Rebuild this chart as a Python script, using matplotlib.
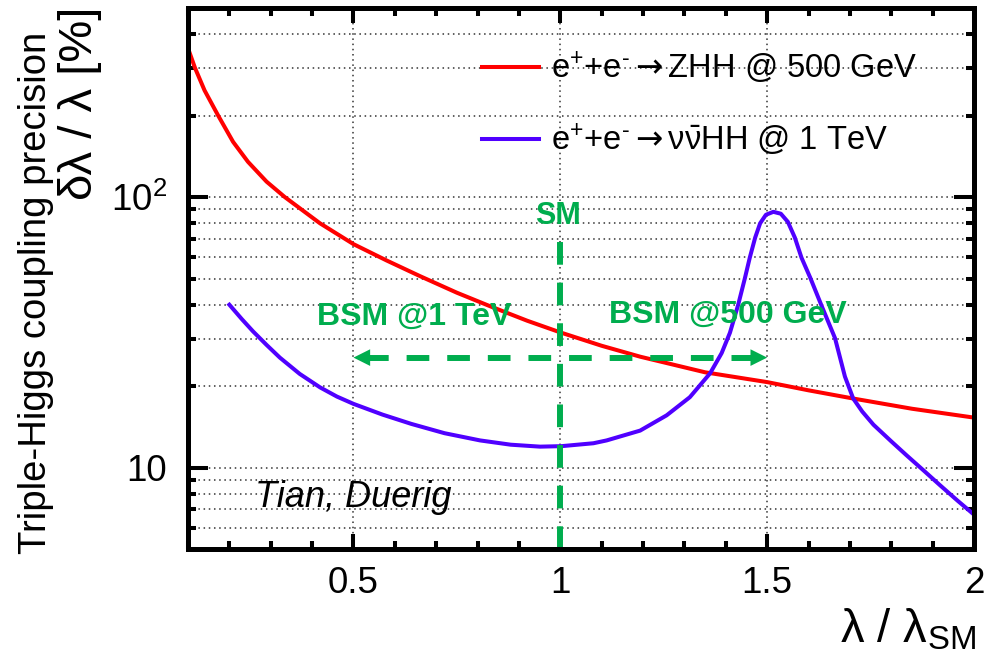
import numpy as np
import matplotlib
matplotlib.use("Agg")
import matplotlib.pyplot as plt
from matplotlib.ticker import FixedLocator, FixedFormatter, NullFormatter

plt.rcParams["font.family"] = ["Liberation Sans", "DejaVu Sans"]
plt.rcParams["mathtext.fontset"] = "custom"
plt.rcParams["mathtext.rm"] = "Liberation Sans"
plt.rcParams["mathtext.it"] = "Liberation Sans:italic"
plt.rcParams["mathtext.bf"] = "Liberation Sans:bold"
plt.rcParams["mathtext.sf"] = "DejaVu Sans"   # only used for the long arrow

# ============================================================================
# data
# ============================================================================
zhh_x = [0.100, 0.117, 0.14, 0.173, 0.209, 0.245, 0.29, 0.334, 0.419, 0.50,
         0.58, 0.661, 0.75, 0.83, 0.92, 1.00, 1.10, 1.193, 1.35, 1.50,
         1.60, 1.708, 1.85, 2.00]
zhh_y = [355, 300, 248, 200, 160, 135, 114, 100, 80, 67,
         58.3, 51, 44.3, 39.5, 34.9, 31.6, 28.2, 25.7, 22.5, 20.7,
         19.3, 18.0, 16.5, 15.3]

vvhh_x = [0.20, 0.23, 0.257, 0.29, 0.322, 0.37, 0.419, 0.46, 0.50, 0.57,
          0.64, 0.72, 0.806, 0.88, 0.951, 1.003, 1.08, 1.112, 1.193, 1.257,
          1.313, 1.362, 1.39, 1.41, 1.43, 1.446, 1.458, 1.471, 1.483, 1.497,
          1.515, 1.533, 1.55, 1.567, 1.583, 1.604, 1.632, 1.664, 1.688, 1.708,
          1.73, 1.757, 1.80, 1.837, 1.88, 1.918, 1.96, 2.00]
vvhh_y = [40, 35.4, 31.9, 28.4, 25.5, 22.2, 19.8, 18.3, 17.2, 15.7,
          14.5, 13.4, 12.6, 12.15, 11.95, 12.0, 12.3, 12.6, 13.7, 15.6,
          18.2, 22.3, 26.5, 31.5, 40, 50, 59.7, 70.8, 80, 86,
          88.2, 86.8, 81, 70.8, 59.7, 50.4, 39.5, 30.1, 21.7, 18.0,
          16.1, 14.4, 12.5, 11.1, 9.7, 8.6, 7.55, 6.7]

arrow = r"$\mathsf{\rightarrow}$"
labels = [r"e$\mathregular{^{+}}$+e$\mathregular{^{\text{-}}}$" + arrow + "ZHH @ 500 GeV",
          r"e$\mathregular{^{+}}$+e$\mathregular{^{\text{-}}}$" + arrow
          + r"$\mathregular{\nu\bar{\nu}}$HH @ 1 TeV"]

x_major = [0.5, 1.0, 1.5, 2.0]
x_major_labels = ["0.5", "1", "1.5", "2"]
x_minor = [0.1, 0.2, 0.3, 0.4, 0.6, 0.7, 0.8, 0.9, 1.1, 1.2, 1.3, 1.4,
           1.6, 1.7, 1.8, 1.9]
y_major = [10, 100]
y_major_labels = ["10", r"$\mathregular{10^{2}}$"]
y_minor = [5, 6, 7, 8, 9, 20, 30, 40, 50, 60, 70, 80, 90, 200, 300, 400]

sm_value = 1.0
bsm_1tev_edge = 0.5
bsm_500_edge = 1.5
arrow_level = 25.5
sm_line_top = 69

GREEN = "#00ad4e"
RED = "#ff0000"
BLUE = "#5000ff"

# ============================================================================
# figure
# ============================================================================
W, H = 986, 658
fig = plt.figure(figsize=(W / 100, H / 100), dpi=100)
L, R, T, B = 188, 974, 8, 549
ax = fig.add_axes([L / W, 1 - B / H, (R - L) / W, (B - T) / H])

ax.set_yscale("log")
ax.set_xlim(0.1, 2.0)
ax.set_ylim(5, 500)

ax.xaxis.set_major_locator(FixedLocator(x_major))
ax.xaxis.set_major_formatter(FixedFormatter(x_major_labels))
ax.xaxis.set_minor_locator(FixedLocator(x_minor))
ax.yaxis.set_major_locator(FixedLocator(y_major))
ax.yaxis.set_major_formatter(FixedFormatter(y_major_labels))
ax.yaxis.set_minor_locator(FixedLocator(y_minor))
ax.yaxis.set_minor_formatter(NullFormatter())

# ROOT-style dotted grid
dot = (0, (1.0, 2.4))
ax.grid(True, which="major", axis="x", color="0.2", lw=1.1, ls=dot)
ax.grid(True, which="both", axis="y", color="0.2", lw=1.1, ls=dot)
ax.set_axisbelow(True)

for s in ax.spines.values():
    s.set_linewidth(3.6)

ax.tick_params(which="both", direction="in", top=True, right=True, width=2.9,
               labelsize=26.5)
ax.tick_params(axis="x", which="major", length=11, pad=12)
ax.tick_params(axis="x", which="minor", length=6)
ax.tick_params(axis="y", which="major", length=14.5, pad=15)
ax.tick_params(axis="y", which="minor", length=6)

# curves
ax.plot(zhh_x, zhh_y, color=RED, lw=2.9, label=labels[0])
ax.plot(vvhh_x, vvhh_y, color=BLUE, lw=2.9, label=labels[1])

# SM line and BSM arrows
dash = dict(color=GREEN, lw=4.3, dashes=(3.8, 3.0), solid_capstyle="butt",
            dash_capstyle="butt")
ax.plot([sm_value, sm_value], [5, sm_line_top], **dash)
ax.plot([bsm_1tev_edge + 0.03, bsm_500_edge - 0.03], [arrow_level, arrow_level], **dash)
for tip, tail in [(bsm_1tev_edge, bsm_1tev_edge + 0.06), (bsm_500_edge, bsm_500_edge - 0.06)]:
    ax.annotate("", xy=(tip, arrow_level), xytext=(tail, arrow_level),
                arrowprops=dict(arrowstyle="-|>", mutation_scale=30, color=GREEN,
                                lw=0, shrinkA=0, shrinkB=0))

ax.text(sm_value - 0.005, 85, "SM", color=GREEN, fontsize=22, fontweight="bold",
        ha="center", va="center")
ax.text(0.647, 36.1, "BSM @1 TeV", color=GREEN, fontsize=23, fontweight="bold",
        ha="center", va="center")
ax.text(1.405, 36.7, "BSM @500 GeV", color=GREEN, fontsize=23, fontweight="bold",
        ha="center", va="center")

ax.text(0.262, 7.73, "Tian, Duerig", fontsize=26, style="italic",
        ha="left", va="center")

leg = ax.legend(loc="upper left", bbox_to_anchor=(0.374, 0.922), frameon=False,
                fontsize=23.5, handlelength=1.75, handletextpad=0.35,
                labelspacing=1.08, borderpad=0, borderaxespad=0)

# axis titles
fig.text(36 / W, 1 - 32 / H, "Triple-Higgs coupling precision", rotation=90,
         fontsize=27.5, ha="center", va="top")
fig.text(80 / W, 1 - 7 / H, "δλ / λ [%]", rotation=90,
         fontsize=34, ha="center", va="top")
fig.text(976 / W, 1 - 652 / H, r"$\mathregular{\lambda\ /\ \lambda_{SM}}$",
         fontsize=34, ha="right", va="bottom")

fig.savefig("out.png", dpi=100)
